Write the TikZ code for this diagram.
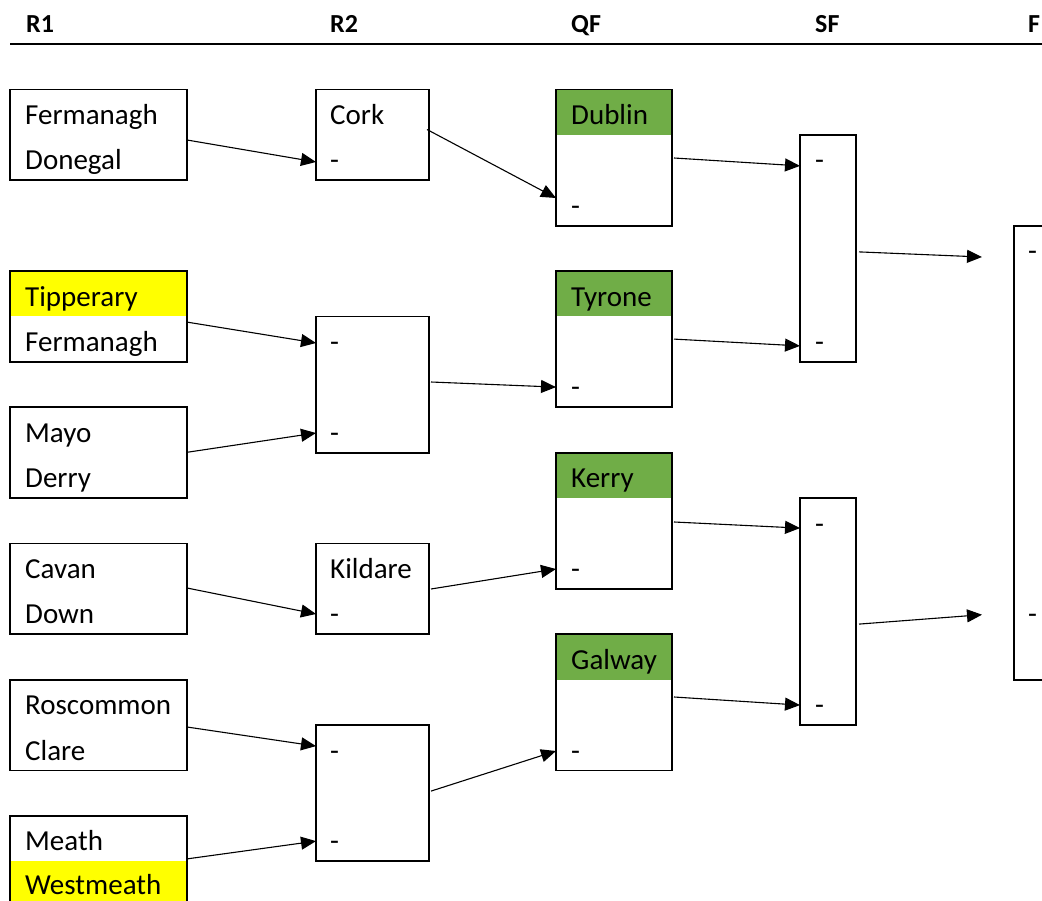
\documentclass[tikz,border=0pt]{standalone}
\usepackage{fontspec}
\setmainfont{Carlito}
\usetikzlibrary{arrows.meta,calc}
\definecolor{qfgreen}{RGB}{112,173,71}
\definecolor{hlyellow}{RGB}{255,255,0}
\begin{document}
\begin{tikzpicture}[x=1pt,y=-1pt,
  box/.style={draw, line width=1.9pt, inner sep=0, outer sep=0, anchor=north west},
  band/.style={inner sep=0, outer sep=0, anchor=north west, minimum height=45.4},
  lbl/.style={anchor=base west, inner sep=0, font=\fontsize{29}{29}\selectfont},
  hdr/.style={anchor=base west, inner sep=0, font=\fontsize{26}{26}\selectfont\bfseries},
  arr/.style={-{Triangle[length=15pt,width=13pt]}, line width=1.1pt}]
\useasboundingbox (0,0) rectangle (1042,901);
\clip (0,0) rectangle (1042,901);
% header
\node[hdr] (h1) at (26,33) {R1};
\node[hdr] (h2) at (330,33) {R2};
\node[hdr] (h3) at (571,33) {QF};
\node[hdr] (h4) at (815,33) {SF};
\node[hdr] (h5) at (1028,33) {F};
\coordinate (rl) at (10,44);
\coordinate (rr) at (1042,44);
\draw[line width=2.7pt] (rl) -- (rr);
% coloured bands
\node[band, fill=hlyellow, minimum width=177] (y1) at (10,271.1) {};
\node[band, fill=hlyellow, minimum width=177] (y2) at (10,861.3) {};
\node[band, fill=qfgreen, minimum width=116] (g1) at (556,89.5) {};
\node[band, fill=qfgreen, minimum width=116] (g2) at (556,271.1) {};
\node[band, fill=qfgreen, minimum width=116] (g3) at (556,452.7) {};
\node[band, fill=qfgreen, minimum width=116] (g4) at (556,634.3) {};
% R1 boxes
\node[box, minimum width=177, minimum height=90.8] (r1a) at (10,89.5) {};
\node[box, minimum width=177, minimum height=90.8] (r1b) at (10,271.1) {};
\node[box, minimum width=177, minimum height=90.8] (r1c) at (10,407.3) {};
\node[box, minimum width=177, minimum height=90.8] (r1d) at (10,543.5) {};
\node[box, minimum width=177, minimum height=90.8] (r1e) at (10,679.7) {};
\node[box, minimum width=177, minimum height=90.8] (r1f) at (10,815.9) {};
% R2 boxes
\node[box, minimum width=113, minimum height=90.8] (r2a) at (316,89.5) {};
\node[box, minimum width=113, minimum height=136.2] (r2b) at (316,316.5) {};
\node[box, minimum width=113, minimum height=90.8] (r2c) at (316,543.5) {};
\node[box, minimum width=113, minimum height=136.2] (r2d) at (316,725.1) {};
% QF boxes
\node[box, minimum width=116, minimum height=136.2] (qf1) at (556,89.5) {};
\node[box, minimum width=116, minimum height=136.2] (qf2) at (556,271.1) {};
\node[box, minimum width=116, minimum height=136.2] (qf3) at (556,452.7) {};
\node[box, minimum width=116, minimum height=136.2] (qf4) at (556,634.3) {};
% SF boxes
\node[box, minimum width=56, minimum height=227] (sf1) at (800,134.9) {};
\node[box, minimum width=56, minimum height=227] (sf2) at (800,498.1) {};
% F box
\node[box, minimum width=80, minimum height=454] (f1) at (1014,225.7) {};
% R1 texts
\node[lbl] (t1) at (25,124.5) {Fermanagh};
\node[lbl] (t2) at (25,169.9) {Donegal};
\node[lbl] (t3) at (25,306.1) {Tipperary};
\node[lbl] (t4) at (25,351.5) {Fermanagh};
\node[lbl] (t5) at (25,442.3) {Mayo};
\node[lbl] (t6) at (25,487.7) {Derry};
\node[lbl] (t7) at (25,578.5) {Cavan};
\node[lbl] (t8) at (25,623.9) {Down};
\node[lbl] (t9) at (25,714.7) {Roscommon};
\node[lbl] (t10) at (25,760.1) {Clare};
\node[lbl] (t11) at (25,850.9) {Meath};
\node[lbl] (t12) at (25,894.5) {Westmeath};
% R2 texts
\node[lbl] (u1) at (330,124.5) {Cork};
\node[lbl] (u2) at (330,169.9) {-};
\node[lbl] (u3) at (330,351.5) {-};
\node[lbl] (u4) at (330,442.3) {-};
\node[lbl] (u5) at (330,578.5) {Kildare};
\node[lbl] (u6) at (330,623.9) {-};
\node[lbl] (u7) at (330,760.1) {-};
\node[lbl] (u8) at (330,850.9) {-};
% QF texts
\node[lbl] (v1) at (571,124.5) {Dublin};
\node[lbl] (v2) at (571,215.3) {-};
\node[lbl] (v3) at (571,306.1) {Tyrone};
\node[lbl] (v4) at (571,396.9) {-};
\node[lbl] (v5) at (571,487.7) {Kerry};
\node[lbl] (v6) at (571,578.5) {-};
\node[lbl] (v7) at (571,669.3) {Galway};
\node[lbl] (v8) at (571,760.1) {-};
% SF texts
\node[lbl] (w1) at (815,169.9) {-};
\node[lbl] (w2) at (815,351.5) {-};
\node[lbl] (w3) at (815,533.1) {-};
\node[lbl] (w4) at (815,714.7) {-};
% F texts
\node[lbl] (z1) at (1028,260.7) {-};
\node[lbl] (z2) at (1028,623.9) {-};
% arrows
\draw[arr] ($(r1a.north east)+(0,50.5)$) -- ($(r2a.north west)+(0,72.5)$);
\draw[arr] ($(r2a.north east)+(-2,40)$) -- ($(qf1.north west)+(0,108.5)$);
\draw[arr] ($(r1b.north east)+(0,51)$) -- ($(r2b.north west)+(0,26.5)$);
\draw[arr] ($(r1c.north east)+(0,45)$) -- ($(r2b.north west)+(0,116.5)$);
\draw[arr] ($(r1d.north east)+(0,44.5)$) -- ($(r2c.north west)+(0,70.5)$);
\draw[arr] ($(r1e.north east)+(0,47.3)$) -- ($(r2d.north west)+(0,21)$);
\draw[arr] ($(r1f.north east)+(0,43)$) -- ($(r2d.north west)+(0,116)$);
\draw[arr] ($(r2b.north east)+(2,65.5)$) -- ($(qf2.north west)+(0,116)$);
\draw[arr] ($(r2c.north east)+(2,45.5)$) -- ($(qf3.north west)+(0,116.3)$);
\draw[arr] ($(r2d.north east)+(2,66)$) -- ($(qf4.north west)+(0,116.7)$);
\draw[arr] ($(qf1.north east)+(2,68.5)$) -- ($(sf1.north west)+(0,31)$);
\draw[arr] ($(qf2.north east)+(2,68)$) -- ($(sf1.north west)+(0,211)$);
\draw[arr] ($(qf3.north east)+(2,69.3)$) -- ($(sf2.north west)+(0,30)$);
\draw[arr] ($(qf4.north east)+(2,62.7)$) -- ($(sf2.north west)+(0,207)$);
\draw[arr] ($(sf1.north east)+(3,117)$) -- ($(f1.north west)+(-32,31.3)$);
\draw[arr] ($(sf2.north east)+(3,126)$) -- ($(f1.north west)+(-32,389)$);
\end{tikzpicture}
\end{document}
